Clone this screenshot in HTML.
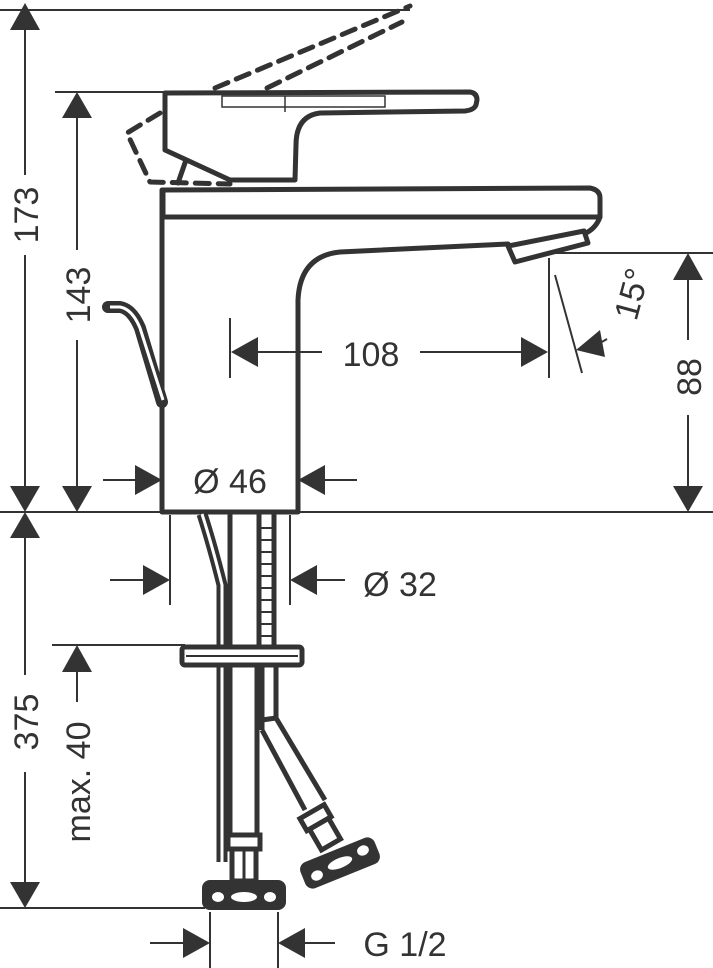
<!DOCTYPE html>
<html><head><meta charset="utf-8"><style>
html,body{margin:0;padding:0;background:#fff;}
svg{display:block;}
text{font-family:"Liberation Sans",sans-serif;fill:#333;font-size:34px;}
</style></head><body>
<svg width="713" height="968" viewBox="0 0 713 968" xmlns="http://www.w3.org/2000/svg">
<defs>
<marker id="a" viewBox="0 0 10 10" refX="10" refY="5" markerWidth="10" markerHeight="10" markerUnits="userSpaceOnUse" orient="auto"></marker>
</defs>
<g stroke="#333" fill="none" stroke-width="2">
<!-- extension lines -->
<line x1="0" y1="10" x2="410" y2="10"/>
<line x1="55" y1="92" x2="166" y2="92"/>
<line x1="0" y1="512" x2="713" y2="512"/>
<line x1="0" y1="908" x2="205" y2="908"/>
<line x1="52" y1="645" x2="185" y2="645"/>
<line x1="550" y1="253" x2="713" y2="253"/>
<!-- 173 -->
<line x1="25" y1="28" x2="25" y2="175"/>
<line x1="25" y1="255" x2="25" y2="490"/>
<!-- 143 -->
<line x1="77" y1="115" x2="77" y2="250"/>
<line x1="77" y1="340" x2="77" y2="490"/>
<!-- 375 -->
<line x1="25" y1="535" x2="25" y2="675"/>
<line x1="25" y1="772" x2="25" y2="885"/>
<!-- max 40 -->
<line x1="77" y1="668" x2="77" y2="702"/>
<!-- 88 -->
<line x1="688" y1="276" x2="688" y2="340"/>
<line x1="688" y1="415" x2="688" y2="490"/>
<!-- 108 -->
<line x1="230" y1="318" x2="230" y2="378"/>
<line x1="549" y1="258" x2="549" y2="378"/>
<line x1="255" y1="352" x2="322" y2="352"/>
<line x1="420" y1="352" x2="525" y2="352"/>
<!-- 15 -->
<line x1="555" y1="275" x2="582" y2="373"/>
<line x1="600" y1="343" x2="607" y2="339"/>
<!-- Ø46 -->
<line x1="103" y1="480" x2="137" y2="480"/>
<line x1="323" y1="480" x2="357" y2="480"/>
<!-- Ø32 -->
<line x1="170" y1="515" x2="170" y2="605"/>
<line x1="290" y1="515" x2="290" y2="605"/>
<line x1="110" y1="580" x2="146" y2="580"/>
<line x1="315" y1="580" x2="345" y2="580"/>
<!-- G1/2 -->
<line x1="210" y1="912" x2="210" y2="968"/>
<line x1="278" y1="912" x2="278" y2="968"/>
<line x1="150" y1="943" x2="185" y2="943"/>
<line x1="303" y1="943" x2="335" y2="943"/>
</g>
<!-- arrowheads -->
<g fill="#333">
<polygon points="25,3 10,30 40,30"/>
<polygon points="25,512 10,486 40,486"/>
<polygon points="25,512 10,538 40,538"/>
<polygon points="25,908 10,882 40,882"/>
<polygon points="77,92 62,118 92,118"/>
<polygon points="77,512 62,486 92,486"/>
<polygon points="77,645 62,672 92,672"/>
<polygon points="688,253 673,280 703,280"/>
<polygon points="688,512 673,486 703,486"/>
<polygon points="231,352 258,337 258,367"/>
<polygon points="548,352 521,337 521,367"/>
<polygon points="576,350 600,330 605,357"/>
<polygon points="162,480 135,465 135,495"/>
<polygon points="298,480 325,465 325,495"/>
<polygon points="170,580 143,565 143,595"/>
<polygon points="290,580 317,565 317,595"/>
<polygon points="210,943 183,928 183,958"/>
<polygon points="278,943 305,928 305,958"/>
</g>
<!-- labels -->
<text transform="translate(38,215) rotate(-90)" text-anchor="middle">173</text>
<text transform="translate(90,295) rotate(-90)" text-anchor="middle">143</text>
<text transform="translate(38,722) rotate(-90)" text-anchor="middle">375</text>
<text transform="translate(90,782) rotate(-90)" text-anchor="middle">max. 40</text>
<text transform="translate(701,377) rotate(-90)" text-anchor="middle">88</text>
<text x="371" y="366" text-anchor="middle">108</text>
<text transform="translate(643,297) rotate(-75)" text-anchor="middle">15°</text>
<text x="230" y="493" text-anchor="middle">Ø 46</text>
<text x="400" y="596" text-anchor="middle">Ø 32</text>
<text x="405" y="956" text-anchor="middle">G 1/2</text>

<!-- faucet -->
<g stroke="#333" fill="none" stroke-width="5" stroke-linejoin="round" stroke-linecap="round">
<!-- dashed raised lever -->
<g stroke-dasharray="14,9">
<line x1="215" y1="88" x2="410" y2="6"/>
<line x1="267" y1="88" x2="402" y2="22"/>
<polyline points="160,113 127,133 150,182 230,184"/>
</g>
<!-- handle -->
<path d="M165,93 L470,92 Q477,93 477,100 L476,105 Q474,110 465,111 L320,113 Q296,116 296,145 L295,180 L230,180 L165,150 Z" fill="#fff"/>
<line x1="178" y1="183" x2="186" y2="160"/>
<!-- body top plate -->
<path d="M163,190 L590,188 Q600,190 600,198 L600,217 L163,217 Z" fill="#fff"/>
<!-- body -->
<path d="M162,190 L162,512 L298,512 L298,300 Q300,256 340,252 L508,244" />
<path d="M600,217 Q596,228 586,233"/>
<path d="M508,246 L584,231 L588,243 L515,262 Z" fill="#fff"/>
</g>
<g stroke="#333" fill="none" stroke-width="1.5">
<rect x="222" y="96" width="163" height="11"/>
<line x1="285" y1="96" x2="285" y2="112"/>
</g>
<!-- pop-up lever -->
<path d="M108,307 L120,307 Q132,309 140,328 L162,402" stroke="#333" stroke-width="12" fill="none" stroke-linejoin="round" stroke-linecap="round"/>
<path d="M110,307 L120,307 Q132,309 140,328 L163,400" stroke="#fff" stroke-width="3" fill="none"/>

<!-- pull rod below -->
<path d="M202,514 Q212,545 222,585 L222,862" stroke="#333" stroke-width="11" fill="none"/>
<path d="M202,514 Q212,545 222,585 L222,862" stroke="#fff" stroke-width="3" fill="none"/>
<!-- shaft -->
<g stroke="#333" stroke-width="5" fill="none">
<line x1="230" y1="514" x2="230" y2="647"/>
<line x1="259" y1="514" x2="259" y2="647"/>
<line x1="274" y1="514" x2="274" y2="647"/>
</g>
<g stroke="#333" stroke-width="2">
<line x1="260" y1="528" x2="273" y2="528"/><line x1="260" y1="540" x2="273" y2="540"/>
<line x1="260" y1="552" x2="273" y2="552"/><line x1="260" y1="564" x2="273" y2="564"/>
<line x1="260" y1="576" x2="273" y2="576"/><line x1="260" y1="588" x2="273" y2="588"/>
<line x1="260" y1="600" x2="273" y2="600"/><line x1="260" y1="612" x2="273" y2="612"/>
<line x1="260" y1="624" x2="273" y2="624"/><line x1="260" y1="636" x2="273" y2="636"/>
</g>
<!-- nut plate -->
<rect x="182" y="647" width="120" height="18" rx="3" fill="#fff" stroke="#333" stroke-width="5"/>
<line x1="186" y1="656" x2="298" y2="656" stroke="#333" stroke-width="2"/>
<!-- left hose -->
<g stroke="#333" stroke-width="5" fill="none">
<line x1="257" y1="666" x2="257" y2="836"/>
<line x1="230" y1="666" x2="230" y2="836"/>
<rect x="228" y="835" width="32" height="14"/>
<rect x="232" y="849" width="24" height="32"/>
</g>
<line x1="244" y1="849" x2="244" y2="880" stroke="#333" stroke-width="3"/>
<!-- right hose -->
<g stroke="#333" stroke-width="5" fill="none">
<line x1="262" y1="666" x2="262" y2="730"/>
<line x1="276" y1="666" x2="276" y2="718"/>
<line x1="262" y1="720" x2="276" y2="718"/>
<line x1="262" y1="730" x2="305" y2="810"/>
<line x1="276" y1="718" x2="325" y2="800"/>
<g transform="translate(318,822) rotate(-30)">
<rect x="-14" y="-12" width="28" height="14"/>
<rect x="-11" y="2" width="22" height="24"/>
</g>
</g>
<!-- bottom nut -->
<rect x="202" y="880" width="84" height="30" rx="8" fill="#333"/>
<ellipse cx="218" cy="897" rx="6" ry="5" fill="#fff"/>
<ellipse cx="270" cy="897" rx="6" ry="5" fill="#fff"/>
<ellipse cx="244" cy="897" rx="13" ry="5" fill="#fff"/>
<!-- right nut -->
<g transform="translate(340,863) rotate(-22)">
<rect x="-40" y="-14" width="80" height="28" rx="8" fill="#333"/>
<ellipse cx="-26" cy="3" rx="6" ry="5" fill="#fff"/>
<ellipse cx="26" cy="-3" rx="6" ry="5" fill="#fff"/>
<ellipse cx="0" cy="0" rx="13" ry="5" fill="#fff"/>
</g>
</svg>
</body></html>
